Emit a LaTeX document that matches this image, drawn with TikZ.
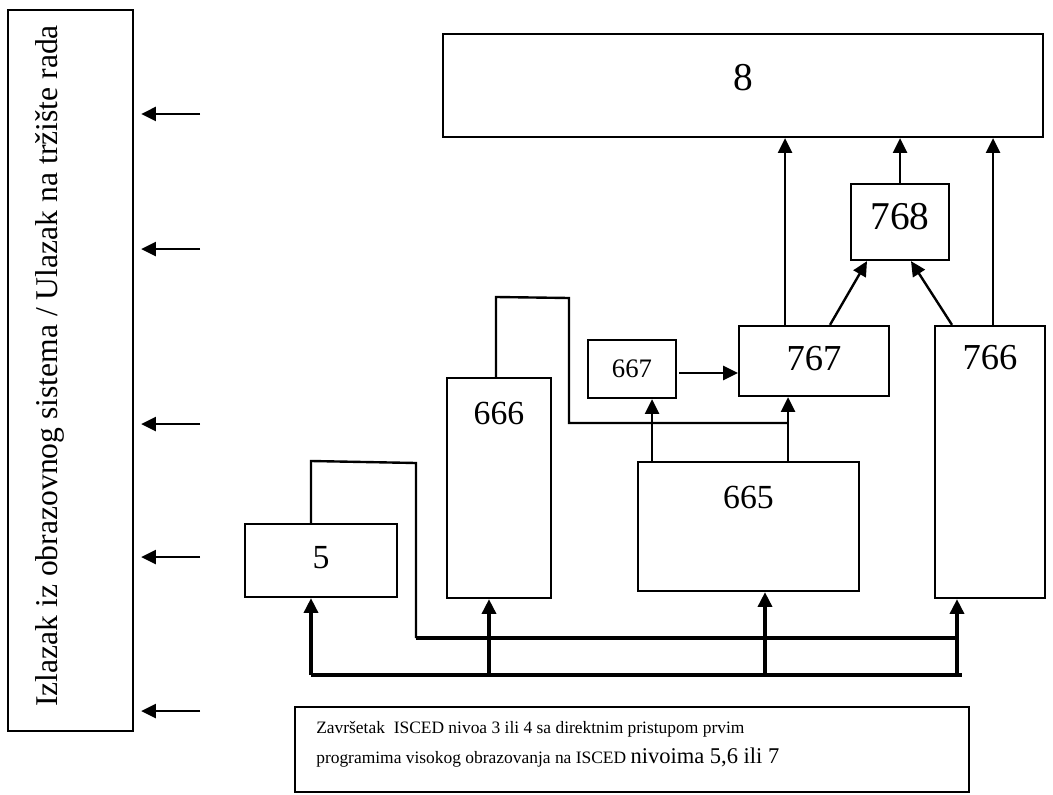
\documentclass[tikz,border=0pt]{standalone}
\usepackage{fontspec}
\setmainfont{Liberation Serif}
\usetikzlibrary{arrows.meta}

\newcommand{\px}{0.025cm}
\tikzset{
  box/.style={draw, line width=1.6pt, inner sep=0pt},
  line/.style={line width=1.7pt},
  bus/.style={line width=2.4pt},
  arr/.style={line width=1.7pt, -{Triangle[length=3.7mm,width=3.5mm]}},
  num/.style={font=\fontsize{#1}{#1}\selectfont},
}

\begin{document}
\begin{tikzpicture}[x=\px, y=-\px]
\useasboundingbox (0,0) rectangle (1053,795);

% left column
\node[box, minimum width=125*\px, minimum height=721*\px] (izlaz) at (70.5,370.5) {};
\node[rotate=90, inner sep=0pt, font=\fontsize{22.5}{27}\selectfont] (izlazTxt) at (50,366)
  {Izlazak iz obrazovnog sistema / Ulazak na tržište rada};
\foreach \y [count=\i] in {114,249,424,557,711} {
  \coordinate (o\i) at (200,\y);
  \draw[arr, shorten >=1.75mm] (o\i) -- (o\i -| izlaz.east);
}

% boxes
\node[box, minimum width=600*\px, minimum height=103*\px,
  label={[num=28, yshift=8*\px]center:8}] (n8) at (743,85.5) {};
\node[box, minimum width=98*\px, minimum height=76*\px,
  label={[num=28, yshift=5*\px]center:768}] (n768) at (900,222) {};
\node[box, minimum width=150*\px, minimum height=70*\px,
  label={[num=26, yshift=2*\px]center:767}] (n767) at (814,361) {};
\node[box, minimum width=110*\px, minimum height=272*\px,
  label={[num=26, yshift=104*\px]center:766}] (n766) at (990,462) {};
\node[box, minimum width=88*\px, minimum height=58*\px,
  label={[num=19]center:667}] (n667) at (632,369) {};
\node[box, minimum width=104*\px, minimum height=220*\px,
  label={[num=24, yshift=75*\px]center:666}] (n666) at (499,488) {};
\node[box, minimum width=221*\px, minimum height=129*\px,
  label={[num=24, yshift=29.5*\px]center:665}] (n665) at (748.5,526.5) {};
\node[box, minimum width=152*\px, minimum height=73*\px,
  label={[num=24, yshift=2.5*\px]center:5}] (n5) at (321,560.5) {};

% bottom box
\node[box, minimum width=674*\px, minimum height=85*\px] (isced) at (632,749.5) {};
\node[anchor=base west, inner sep=0pt, font=\fontsize{12.4}{15}\selectfont] (isced1) at (316,733)
  {Završetak~ ISCED nivoa 3 ili 4 sa direktnim pristupom prvim};
\node[anchor=base west, inner sep=0pt, font=\fontsize{12.4}{15}\selectfont] (isced2) at (316,763)
  {programima visokog obrazovanja na ISCED {\fontsize{16}{18}\selectfont nivoima 5,6 ili 7}};

% lower lines
\coordinate (busL) at (311,675);
\coordinate (busR) at (962,675);
\coordinate (b666) at (489,675);
\coordinate (b665) at (765,675);
\coordinate (b766) at (957,675);
\coordinate (upL) at (416,638);
\draw[bus] (busL) -- (busR);
\draw[line] (busL |- n5.north) -- (311,461) -- (416,463) -- (upL);
\draw[bus] (upL) -- (upL -| b766);
\draw[arr, bus] (busL) -- (busL |- n5.south);
\draw[arr, bus] (b666) -- (b666 |- n666.south);
\draw[arr, bus] (b665) -- (b665 |- n665.south);
\draw[arr, bus] (b766) -- (b766 |- n766.south);

% middle
\coordinate (t666) at (496,297);
\coordinate (c667) at (652,423);
\coordinate (c767) at (788,423);
\coordinate (h667) at (679,373);
\draw[line] (t666 |- n666.north) -- (t666) -- (569,298) -- (569,423) -- (c767);
\draw[arr] (c667 |- n665.north) -- (c667 |- n667.south);
\draw[arr] (c767 |- n665.north) -- (c767 |- n767.south);
\draw[arr] (h667) -- (h667 -| n767.west);

% top
\coordinate (v767) at (785,0);
\coordinate (v766) at (993,0);
\draw[arr] (v767 |- n767.north) -- (v767 |- n8.south);
\draw[arr] (n768.north) -- (n768.north |- n8.south);
\draw[arr] (v766 |- n766.north) -- (v766 |- n8.south);
\draw[arr] ([xshift=16*\px]n767.north) -- ([xshift=-33*\px]n768.south);
\draw[arr] ([xshift=-38*\px]n766.north) -- ([xshift=11*\px]n768.south);
\end{tikzpicture}
\end{document}
